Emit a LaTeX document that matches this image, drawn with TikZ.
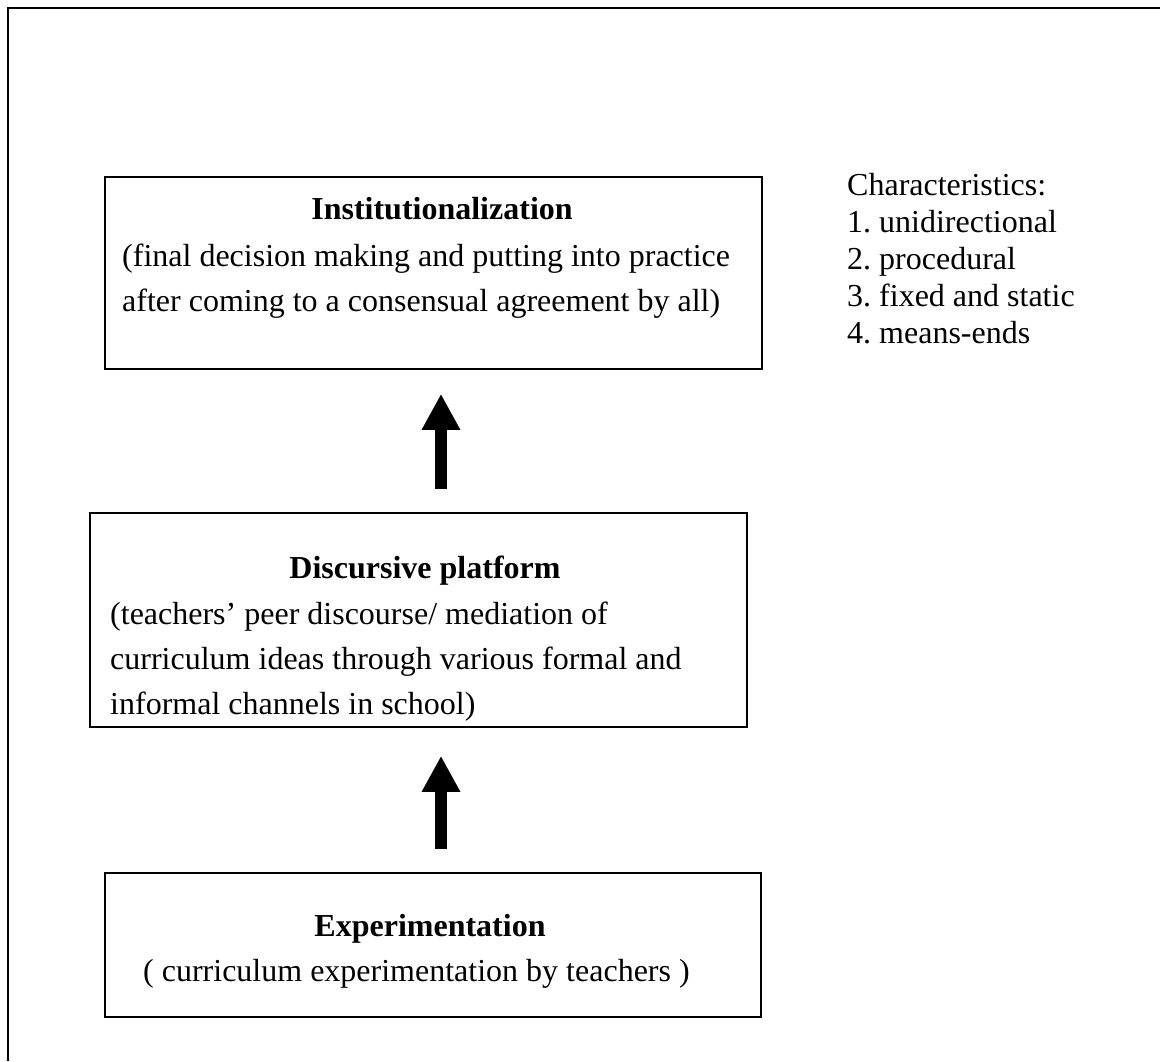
\documentclass[tikz,border=0pt]{standalone}
\usepackage{fontspec}
\setmainfont{Liberation Serif}
\usetikzlibrary{arrows.meta}
\frenchspacing
\begin{document}
\begin{tikzpicture}[x=1pt,y=-1pt,
  box/.style={draw,line width=1.6pt,rectangle,inner sep=0pt},
  txt/.style={anchor=base west,inner sep=0pt,font=\fontsize{32}{38}\selectfont},
  ttl/.style={anchor=base,inner sep=0pt,font=\fontsize{32}{38}\selectfont\bfseries},
  fat/.style={line width=12pt,-{Triangle[length=36pt,width=36pt]}}]
\useasboundingbox (0,0) rectangle (1160,1061);
\draw[line width=1.8pt] (8,1061) -- (8,8) -- (1160,8);
% boxes
\node[box,minimum width=657pt,minimum height=192pt] (inst) at (433.5,273) {};
\node[box,minimum width=657pt,minimum height=214pt] (disc) at (418.5,620) {};
\node[box,minimum width=656pt,minimum height=144pt] (exp) at (433,945) {};
% texts
\node[ttl] (t1) at (442,219) {Institutionalization};
\node[txt] (t1a) at (122,266) {(final decision making and putting into practice};
\node[txt] (t1b) at (122,311) {after coming to a consensual agreement by all)};
\node[ttl] (t2) at (425,578) {Discursive platform};
\node[txt] (t2a) at (110,624) {(teachers’ peer discourse/ mediation of};
\node[txt] (t2b) at (110,669) {curriculum ideas through various formal and};
\node[txt] (t2c) at (110,714) {informal channels in school)};
\node[ttl] (t3) at (430,936) {Experimentation};
\node[txt] (t3a) at (143,981) {( curriculum experimentation by teachers )};
% characteristics
\node[txt] (c0) at (847,195) {Characteristics:};
\node[txt] (c1) at (847,232) {1. unidirectional};
\node[txt] (c2) at (847,269) {2. procedural};
\node[txt] (c3) at (847,306) {3. fixed and static};
\node[txt] (c4) at (847,343) {4. means-ends};
% arrows
\coordinate (ax) at (441,0);
\draw[fat,shorten <=23pt,shorten >=24pt] (disc.north -| ax) -- (inst.south -| ax);
\draw[fat,shorten <=23pt,shorten >=28pt] (exp.north -| ax) -- (disc.south -| ax);
\end{tikzpicture}
\end{document}
